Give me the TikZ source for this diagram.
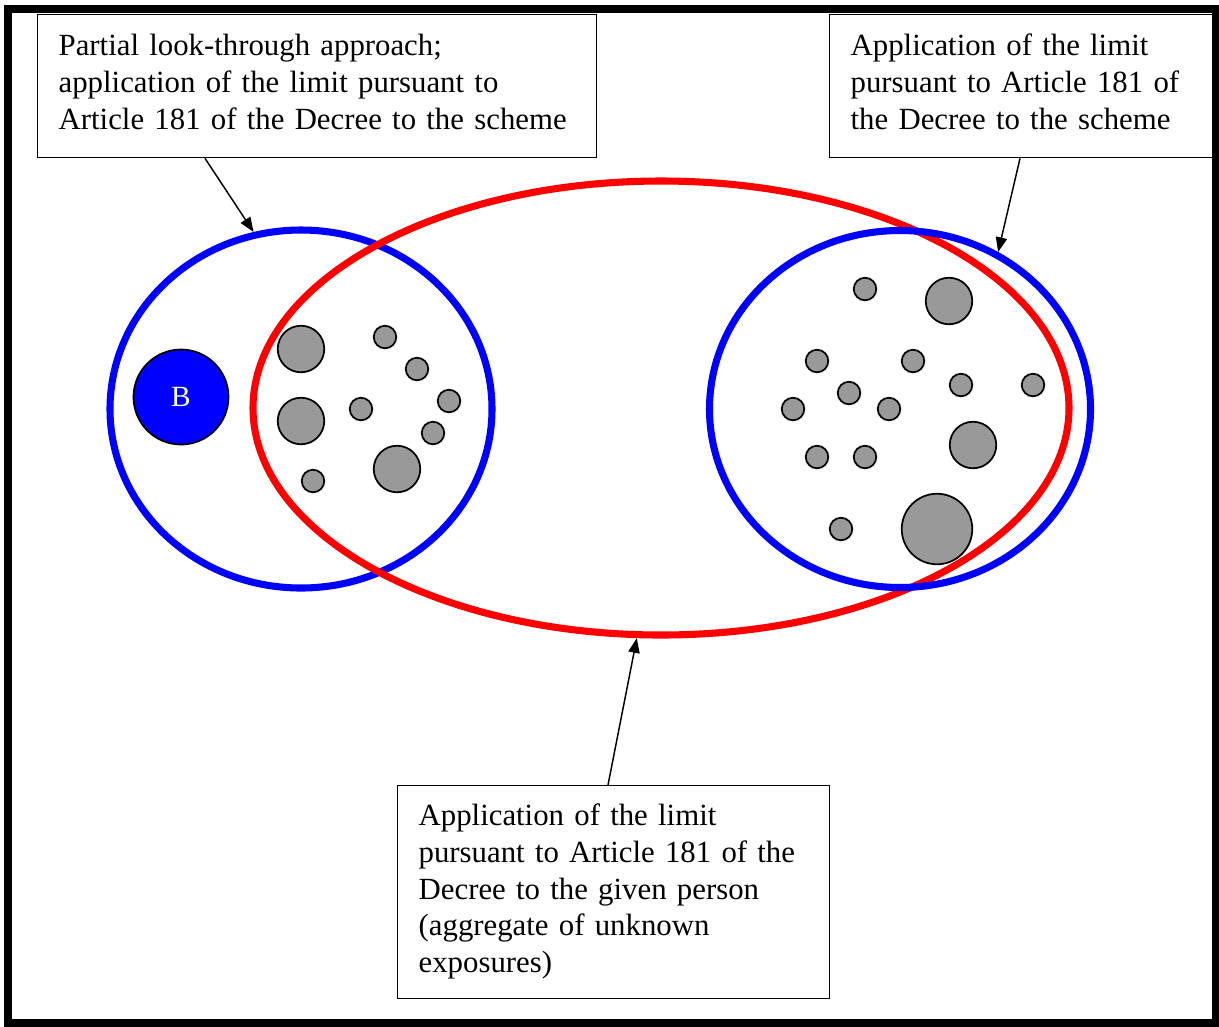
\documentclass[tikz,border=0pt]{standalone}
\usepackage{fontspec}
\setmainfont{Liberation Serif}
\usetikzlibrary{shapes.geometric,arrows.meta,calc}

\definecolor{dotgray}{RGB}{153,153,153}
\newcommand{\notefont}{\fontsize{23.1}{27.5}\selectfont}

\begin{document}
\begin{tikzpicture}[x=0.75pt,y=0.75pt,yscale=-1,
  note/.style={draw, line width=1pt, anchor=north west, inner xsep=15.75pt, inner ysep=0pt, align=left, font=\notefont},
  ring/.style={ellipse, draw, line width=5.3pt, inner sep=0pt},
  dot/.style={circle, draw, line width=1.3pt, fill=dotgray, inner sep=0pt},
  pointer/.style={line width=1.1pt, -{Triangle[length=11pt,width=8.5pt]}}]
\useasboundingbox (0,0) rectangle (1219,1026);

%Shape: Frame
\draw [line width=5.5pt] (8,9) rectangle (1216,1023);

%Shape: Ellipse (scheme, left)
\node [ring, blue, minimum width=286.5pt, minimum height=268.5pt] (schemeL) at (301,409) {};
%Shape: Ellipse (given person)
\node [ring, red, minimum width=612pt, minimum height=340.5pt] (person) at (661,408) {};
%Shape: Ellipse (scheme, right)
\node [ring, blue, minimum width=285.75pt, minimum height=267.75pt] (schemeR) at (900,409) {};

%Shape: Circle (B)
\node [circle, draw, line width=1.3pt, fill=blue, text=white, inner sep=0pt, minimum size=71.25pt, font=\fontsize{22}{26}\selectfont] (b) at (181,397) {B};

%Shape: Circles, left group
\node [dot, minimum size=34.9pt] (l1) at (301,349) {};
\node [dot, minimum size=34.9pt] (l2) at (301,421) {};
\node [dot, minimum size=16.9pt] (l3) at (385,337) {};
\node [dot, minimum size=16.9pt] (l4) at (417,369) {};
\node [dot, minimum size=16.9pt] (l5) at (449,401) {};
\node [dot, minimum size=16.9pt] (l6) at (361,409) {};
\node [dot, minimum size=16.9pt] (l7) at (433,433) {};
\node [dot, minimum size=16.9pt] (l8) at (313,481) {};
\node [dot, minimum size=34.9pt] (l9) at (397,469) {};

%Shape: Circles, right group
\node [dot, minimum size=16.9pt] (r1) at (865,289) {};
\node [dot, minimum size=34.9pt] (r2) at (949,301) {};
\node [dot, minimum size=16.9pt] (r3) at (817,361) {};
\node [dot, minimum size=16.9pt] (r4) at (913,361) {};
\node [dot, minimum size=16.9pt] (r5) at (961,385) {};
\node [dot, minimum size=16.9pt] (r6) at (1033,385) {};
\node [dot, minimum size=16.9pt] (r7) at (849,393) {};
\node [dot, minimum size=16.9pt] (r8) at (793,409) {};
\node [dot, minimum size=16.9pt] (r9) at (889,409) {};
\node [dot, minimum size=34.9pt] (r10) at (973,445) {};
\node [dot, minimum size=16.9pt] (r11) at (817,457) {};
\node [dot, minimum size=16.9pt] (r12) at (865,457) {};
\node [dot, minimum size=16.9pt] (r13) at (841,529) {};
\node [dot, minimum size=52.9pt] (r14) at (937,529) {};

% Text Node
\node [note, text width=387.75pt, text height=30.75pt, text depth=76.5pt] (lookthrough) at (37,14)
  {Partial look-through approach;\\ application of the limit pursuant to\\ Article 181 of the Decree to the scheme};
% Text Node
\node [note, text width=256.5pt, text height=30.75pt, text depth=76.5pt] (schemelimit) at (829,14)
  {Application of the limit\\ pursuant to Article 181 of\\ the Decree to the scheme};
% Text Node
\node [note, text width=292.5pt, text height=30pt, text depth=129.75pt] (personlimit) at (397,785)
  {Application of the limit\\ pursuant to Article 181 of the\\ Decree to the given person\\ (aggregate of unknown\\ exposures)};

%Straight Lines
\draw [pointer] ($(lookthrough.south west)+(168,0)$) -- (schemeL.105);
\draw [pointer] ($(schemelimit.south west)+(191,0)$) -- (schemeR.58);
\draw [pointer] ($(personlimit.north west)+(211,0)$) -- (person.264);

\end{tikzpicture}
\end{document}
